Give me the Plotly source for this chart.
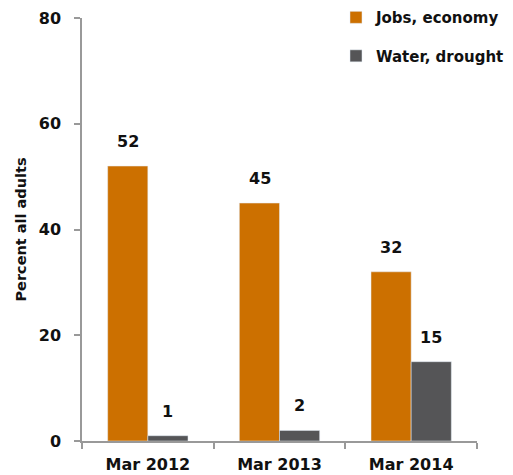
import plotly.graph_objects as go

periods = ["Mar 2012", "Mar 2013", "Mar 2014"]
jobs_economy = [52, 45, 32]
water_drought = [1, 2, 15]

orange = "#CC7000"
grey = "#555557"
font_family = "DejaVu Sans, sans-serif"

fig = go.Figure()
fig.add_trace(go.Bar(x=periods, y=jobs_economy, name="<b>Jobs, economy</b>",
                     marker_color=orange, legendgroup="a"))
fig.add_trace(go.Bar(x=periods, y=water_drought, name="<b>Water, drought</b>",
                     marker_color=grey, legendgroup="b"))

# value labels above each bar
for series, shift in ((jobs_economy, -20), (water_drought, 20)):
    for p, v in zip(periods, series):
        fig.add_annotation(x=p, y=v, text=f"<b>{v}</b>", showarrow=False,
                           xshift=shift, yshift=13, yanchor="bottom",
                           font=dict(size=16, color="#111", family=font_family))

fig.update_layout(
    width=513, height=475,
    margin=dict(l=82, r=36, t=18, b=34, autoexpand=False),
    plot_bgcolor="white", paper_bgcolor="white",
    barmode="group", bargap=0.39, bargroupgap=0,
    font=dict(family=font_family, color="#111"),
    legend=dict(x=0.643, y=1.04, xanchor="left", yanchor="top",
                font=dict(size=15, color="#111"), tracegroupgap=16,
                bgcolor="rgba(0,0,0,0)"),
    xaxis=dict(showline=True, linecolor="#999", linewidth=1.5,
               ticks="outside", tickson="boundaries", ticklen=6,
               tickcolor="#999", tickwidth=1.5, ticklabelstandoff=8,
               tickfont=dict(size=16, family=font_family),
               tickprefix="<b>", ticksuffix="</b>"),
    yaxis=dict(range=[0, 80], dtick=20, showgrid=False, zeroline=False,
               showline=True, linecolor="#999", linewidth=1.5,
               ticks="outside", ticklen=6, tickcolor="#999", tickwidth=1.5,
               ticklabelstandoff=10,
               tickfont=dict(size=16, family=font_family),
               tickprefix="<b>", ticksuffix="</b>",
               title=dict(text="<b>Percent all adults</b>", standoff=9,
                          font=dict(size=14.5, family=font_family))),
)

fig.write_html("out.html")
